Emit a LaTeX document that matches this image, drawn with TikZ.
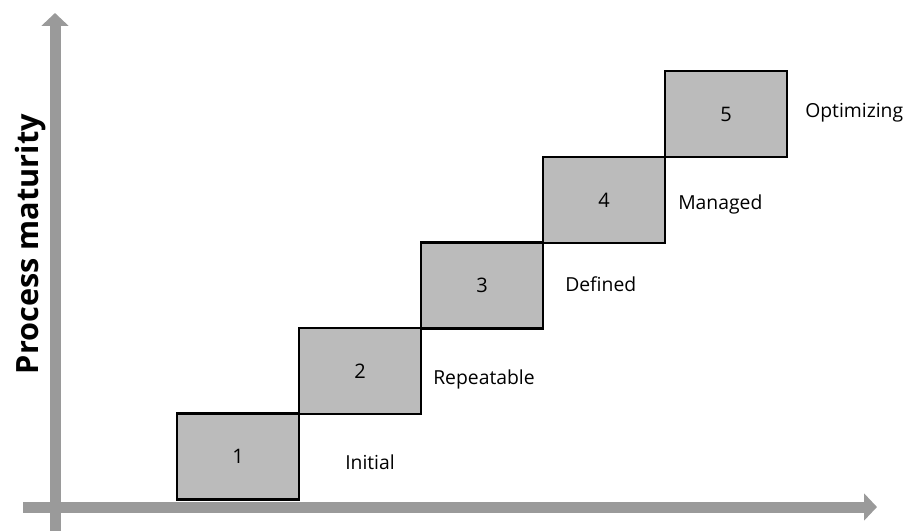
\documentclass[tikz,border=0pt]{standalone}
\usepackage{fontspec}
\setmainfont{Open Sans}
\usetikzlibrary{arrows.meta}
\definecolor{grisEje}{HTML}{9A9A9A}
\definecolor{grisNivel}{HTML}{BBBBBB}

\begin{document}
\begin{tikzpicture}[x=0.75pt,y=-0.75pt,
    nivel/.style={draw=black,line width=1.8pt,fill=grisNivel,outer sep=0pt,
                  minimum width=91.5pt,minimum height=64.5pt,inner sep=0pt,
                  font=\fontsize{15}{17}\selectfont},
    etiqueta/.style={anchor=west,inner sep=0pt,text height=11pt,text depth=0pt,
                     font=\fontsize{14.5}{16}\selectfont},
    eje/.style={grisEje,line width=8.25pt,
                -{Triangle[length=9.75pt,width=20pt]}}]
  \useasboundingbox (0,0) rectangle (908,531);
  % ejes
  \coordinate (ejeYini) at (55,531);
  \coordinate (ejeYfin) at (55,13);
  \coordinate (ejeXini) at (23,507);
  \coordinate (ejeXfin) at (877,507);
  \draw[eje] (ejeYini) -- (ejeYfin);
  \draw[eje] (ejeXini) -- (ejeXfin);
  \node[rotate=90,anchor=base,inner sep=0pt,font=\fontsize{23}{26}\bfseries]
    (madurez) at (38,244) {Process maturity};
  % escalones
  \node[nivel] (n1) at (238,456.5) {1};
  \node[nivel] (n2) at (360,371)   {2};
  \node[nivel] (n3) at (482,285.5) {3};
  \node[nivel] (n4) at (604,200)   {4};
  \node[nivel] (n5) at (726,114)   {5};
  % nombres de los niveles
  \node[etiqueta] (inicial)    at (345,462.5) {Initial};
  \node[etiqueta] (repetible)  at (433,377.5) {Repeatable};
  \node[etiqueta] (definido)   at (565,284.5) {Defined};
  \node[etiqueta] (gestionado) at (678,202.5) {Managed};
  \node[etiqueta] (optimizado) at (805,110)   {Optimizing};
\end{tikzpicture}
\end{document}
